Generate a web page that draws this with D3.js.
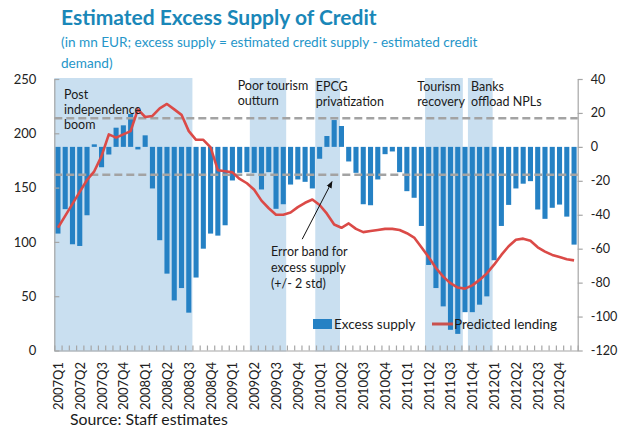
<!DOCTYPE html>
<html>
<head>
<meta charset="utf-8">
<script src="https://cdn.jsdelivr.net/npm/d3@7"></script>
<style>
    body { margin: 0; background: #fff; }
    text { font-family: Lato, "Noto Sans", sans-serif; }
</style>
</head>
<body>
<div id="chart"></div>
<script>
// quarterly tick labels, data is monthly (3 per quarter)
var quarters = ["2007Q1", "2007Q2", "2007Q3", "2007Q4", "2008Q1", "2008Q2", "2008Q3", "2008Q4",
    "2009Q1", "2009Q2", "2009Q3", "2009Q4", "2010Q1", "2010Q2", "2010Q3", "2010Q4",
    "2011Q1", "2011Q2", "2011Q3", "2011Q4", "2012Q1", "2012Q2", "2012Q3", "2012Q4"];

// excess supply, right axis
var excessSupply = [-51.1, -36.7, -57.4, -58.4, -40.3, 1.5, -12, -4.5, 11.3, 12.7, 19.4, -1.5,
    6.8, -24.5, -55.0, -74.7, -90.5, -83.2, -97.7, -77.0, -60.0, -51.1, -52.3, -46.2,
    -19.8, -15.3, -14.9, -15.3, -25.1, -14.9, -36.5, -33.8, -22.2, -19.2, -20.6, -24.5,
    -7.0, 6.4, 15.8, 12.3, -8.6, -15.3, -33.8, -34.4, -19.2, -4.3, -2.7, -14.9,
    -26.1, -30.0, -46.6, -69.6, -83.2, -94.0, -107.8, -110.2, -97.4, -97.4, -93.0, -88.1,
    -66.8, -46.6, -34.2, -24.5, -21.7, -20.2, -36.9, -42.4, -35.9, -34.0, -41.1, -57.6];

// predicted lending, left axis
var predictedLending = [113, 124, 135, 146, 157, 165, 179, 199, 196, 199, 202, 222,
    215, 216, 223, 227, 222, 217, 202, 194, 194, 187, 166, 165,
    164, 158, 154, 148, 138, 131, 125, 125, 127, 132, 136, 139,
    134, 126, 116, 113, 117, 112, 109, 110, 111, 112, 112, 111,
    108, 104, 95, 86, 76, 68, 62, 58, 57, 60, 65, 71,
    79, 88, 96, 102, 103, 101, 95, 91, 88, 86, 84, 83];

// +/- 2 std error band for excess supply
var errorBand = [16.9, -16.4];

// shaded episodes, in month index units
var episodes = [[0, 19], [26.9, 31.9], [35.9, 39.3], [51, 56.2], [56.9, 60.3]];
var episodeLabels = [
    { x: 64, y: 99, lines: ["Post", "independence", "boom"] },
    { x: 237.7, y: 90, lines: ["Poor tourism", "outturn"] },
    { x: 315.7, y: 91, lines: ["EPCG", "privatization"] },
    { x: 417.3, y: 91, lines: ["Tourism", "recovery"] },
    { x: 471, y: 91, lines: ["Banks", "offload NPLs"] }
];

var months = quarters.flatMap(function (q) { return [q + "-1", q + "-2", q + "-3"]; });

var margin = { top: 79, left: 54.3, right: 577.7, bottom: 350.5 };

var svg = d3.select("#chart").append("svg")
    .attr("width", 618)
    .attr("height", 430);

var x = d3.scaleBand().domain(months).range([margin.left, margin.right]).padding(0);
var xLin = d3.scaleLinear().domain([0, months.length]).range([margin.left, margin.right]);
var yL = d3.scaleLinear().domain([0, 250]).range([margin.bottom, margin.top]);
var yR = d3.scaleLinear().domain([-120, 40]).range([margin.bottom, margin.top]);

// titulo
svg.append("text")
    .attr("x", 61).attr("y", 25)
    .style("font-size", "21px").style("font-weight", "bold")
    .style("fill", "#1a87b8")
    .text("Estimated Excess Supply of Credit");

svg.selectAll(".sub")
    .data(["(in mn EUR; excess supply = estimated credit supply - estimated credit", "demand)"])
    .enter().append("text")
    .attr("x", 61)
    .attr("y", function (d, i) { return 47 + i * 20.5; })
    .style("font-size", "13.6px")
    .style("fill", "#2596c9")
    .text(function (d) { return d; });

// shaded episodes
svg.selectAll(".episode")
    .data(episodes)
    .enter().append("rect")
    .attr("x", function (d) { return xLin(d[0]); })
    .attr("y", margin.top - 1)
    .attr("width", function (d) { return xLin(d[1]) - xLin(d[0]); })
    .attr("height", margin.bottom - margin.top + 2)
    .style("fill", "#c9dff0");

// bars
var barW = x.bandwidth() * 0.7;
svg.selectAll(".bar")
    .data(excessSupply)
    .enter().append("rect")
    .attr("x", function (d, i) { return x(months[i]) + (x.bandwidth() - barW) / 2; })
    .attr("y", function (d) { return yR(Math.max(0, d)); })
    .attr("width", barW)
    .attr("height", function (d) { return Math.abs(yR(d) - yR(0)); })
    .style("fill", "#2581c4");

// error band
svg.selectAll(".band")
    .data(errorBand)
    .enter().append("line")
    .attr("x1", margin.left).attr("x2", margin.right)
    .attr("y1", function (d) { return yR(d); })
    .attr("y2", function (d) { return yR(d); })
    .style("stroke", "#a3a3a3")
    .style("stroke-width", 2.5)
    .style("stroke-dasharray", "8,4");

// predicted lending line
var line = d3.line()
    .x(function (d, i) { return x(months[i]) + x.bandwidth() / 2; })
    .y(function (d) { return yL(d); });

svg.append("path")
    .datum(predictedLending)
    .attr("d", line)
    .style("fill", "none")
    .style("stroke", "#db4a47")
    .style("stroke-width", 2.6)
    .style("stroke-linejoin", "round");

// axes
var axisColor = "#a6a6a6";

var leftAxis = svg.append("g")
    .attr("transform", "translate(" + margin.left + ",0)")
    .call(d3.axisLeft(yL).tickValues([0, 50, 100, 150, 200, 250]).tickSizeInner(-5).tickSizeOuter(0).tickPadding(18));

var rightAxis = svg.append("g")
    .attr("transform", "translate(" + margin.right + ",0)")
    .call(d3.axisRight(yR).tickValues(d3.range(-120, 41, 20)).tickSizeInner(5).tickSizeOuter(0).tickPadding(8)
        .tickFormat(function (d) { return String(d); }));

var bottomTicks = svg.append("g")
    .attr("transform", "translate(0," + margin.bottom + ")")
    .call(d3.axisBottom(xLin).tickValues(d3.range(months.length + 1)).tickSizeInner(-5).tickSizeOuter(0).tickFormat(""));

var bottomLabels = svg.append("g")
    .attr("transform", "translate(0," + margin.bottom + ")")
    .call(d3.axisBottom(x)
        .tickValues(months.filter(function (d, i) { return i % 3 === 0; }))
        .tickSize(0)
        .tickFormat(function (d) { return d.split("-")[0]; }));
bottomLabels.select(".domain").remove();
bottomLabels.selectAll("text")
    .attr("transform", "rotate(-90)")
    .attr("x", -11.5)
    .attr("y", 0)
    .attr("dy", "0.38em")
    .attr("dx", 0)
    .style("text-anchor", "end");

[leftAxis, rightAxis, bottomTicks].forEach(function (g) {
    g.selectAll(".domain, line").style("stroke", axisColor).style("stroke-width", 1.2);
});
[leftAxis, bottomLabels].forEach(function (g) {
    g.selectAll("text").style("font-family", "Lato, sans-serif").style("font-size", "13px").style("fill", "#222");
});
rightAxis.selectAll("text").style("font-family", "Lato, sans-serif").style("font-size", "12.6px").style("fill", "#222");

// annotations
episodeLabels.forEach(function (e) {
    svg.selectAll(null)
        .data(e.lines)
        .enter().append("text")
        .attr("x", e.x)
        .attr("y", function (d, i) { return e.y + i * 15.2; })
        .style("font-size", "12.5px")
        .style("fill", "#1a1a1a")
        .text(function (d) { return d; });
});

svg.selectAll(".err")
    .data(["Error band for", "excess supply", "(+/- 2 std)"])
    .enter().append("text")
    .attr("x", 271)
    .attr("y", function (d, i) { return 256 + i * 16; })
    .style("font-size", "12.5px")
    .style("fill", "#1a1a1a")
    .text(function (d) { return d; });

svg.append("defs").append("marker")
    .attr("id", "arrow")
    .attr("viewBox", "0 0 10 10")
    .attr("refX", 9).attr("refY", 5)
    .attr("markerWidth", 7).attr("markerHeight", 7)
    .attr("orient", "auto")
    .append("path").attr("d", "M0,1 L10,5 L0,9 Z").style("fill", "#111");

svg.append("line")
    .attr("x1", xLin(34.1)).attr("y1", yR(-54.4))
    .attr("x2", xLin(38.2)).attr("y2", yR(-20.5))
    .style("stroke", "#111").style("stroke-width", 1)
    .attr("marker-end", "url(#arrow)");

// legend
svg.append("rect")
    .attr("x", 313).attr("y", 319).attr("width", 19).attr("height", 10)
    .style("fill", "#2581c4");
svg.append("text")
    .attr("x", 334).attr("y", 328.5)
    .style("font-size", "13.5px").style("fill", "#1a1a1a")
    .text("Excess supply");
svg.append("line")
    .attr("x1", 432).attr("x2", 453).attr("y1", 324).attr("y2", 324)
    .style("stroke", "#c9514e").style("stroke-width", 3);
svg.append("text")
    .attr("x", 454).attr("y", 329)
    .style("font-size", "13.5px").style("fill", "#1a1a1a")
    .text("Predicted lending");

svg.append("text")
    .attr("x", 70).attr("y", 425)
    .style("font-size", "15.8px").style("fill", "#1a1a1a")
    .text("Source: Staff estimates");
</script>
</body>
</html>
